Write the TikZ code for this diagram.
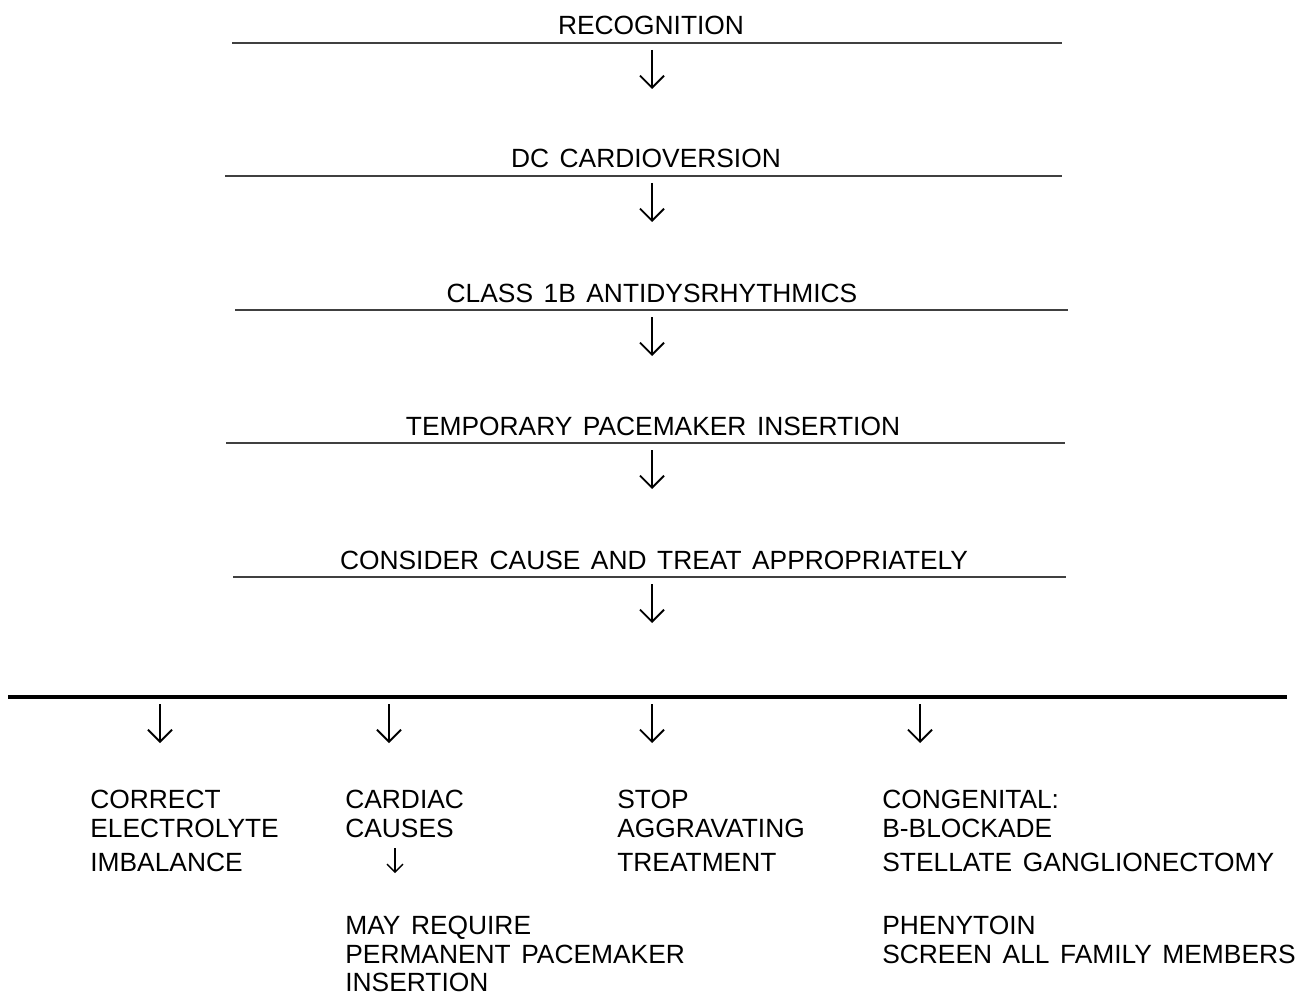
\documentclass[tikz,border=0pt]{standalone}
\usepackage{fontspec}
\setmainfont{Liberation Sans}
\usetikzlibrary{calc}
\usetikzlibrary{arrows.meta}
\tikzstyle{stage}=[inner sep=0pt,anchor=base,font=\fontsize{15}{16}\selectfont]
\tikzstyle{item}=[inner sep=0pt,anchor=base west,font=\fontsize{15}{16}\selectfont]
\tikzstyle{rule}=[line width=0.6pt,black!75]
\tikzstyle{flow}=[line width=1.1pt,-{Straight Barb[length=2.4mm,width=4.8mm]}]
\tikzstyle{smallflow}=[line width=0.8pt,-{Straight Barb[length=1.6mm,width=3.2mm]}]
\newcommand{\wsp}{\hspace{0.4em}}
\newcommand{\drawstage}[6]{
% name, x, baseline, rule from, rule to, text
\node[stage] (#1) at (#2,#3) {#6};
\draw[rule] (#4,#3+8) -- (#5,#3+8);
\coordinate (#1-out) at (652,#3+15);
\coordinate (#1-end) at (652,#3+54);
}

\begin{document}
\begin{tikzpicture}[x=0.02cm,y=-0.02cm]
	\useasboundingbox (0,0) rectangle (1295,993);
	\drawstage{recog}{651}{35}{232}{1062}{RECOGNITION}
	\drawstage{cardiov}{646}{168}{225}{1062}{DC\wsp CARDIOVERSION}
	\drawstage{classib}{652}{302}{235}{1068}{CLASS\wsp 1B\wsp ANTIDYSRHYTHMICS}
	\drawstage{pacing}{653}{435}{226}{1065}{TEMPORARY\wsp PACEMAKER\wsp INSERTION}
	\drawstage{cause}{654}{569}{233}{1066}{CONSIDER\wsp CAUSE\wsp AND\wsp TREAT\wsp APPROPRIATELY}
	\foreach \s in {recog,cardiov,classib,pacing,cause}
		\draw[flow] (\s-out) -- (\s-end);
	% branches
	\draw[line width=1.8pt] (8,697) -- (1287,697);
	\foreach \bx [count=\k] in {160,389,652,920} {
		\coordinate (split\k) at (\bx,704);
		\draw[flow] (split\k) -- ++(0,39);
	}
	\foreach \yy/\txt [count=\k] in {808/CORRECT,837/ELECTROLYTE,871/IMBALANCE}
		\node[item] (correct\k) at (90,\yy) {\txt};
	\foreach \yy/\txt [count=\k] in {808/CARDIAC,837/CAUSES,934/MAY\wsp REQUIRE,963/PERMANENT\wsp PACEMAKER,991/INSERTION}
		\node[item] (cardiac\k) at (345,\yy) {\txt};
	\coordinate (cardiac-out) at (395,848);
	\draw[smallflow] (cardiac-out) -- ++(0,25);
	\foreach \yy/\txt [count=\k] in {808/STOP,837/AGGRAVATING,871/TREATMENT}
		\node[item] (stop\k) at (617,\yy) {\txt};
	\foreach \yy/\txt [count=\k] in {808/CONGENITAL:,837/B-BLOCKADE,871/STELLATE\wsp GANGLIONECTOMY,934/PHENYTOIN,963/SCREEN\wsp ALL\wsp FAMILY\wsp MEMBERS}
		\node[item] (congen\k) at (882,\yy) {\txt};
\end{tikzpicture}
\end{document}
